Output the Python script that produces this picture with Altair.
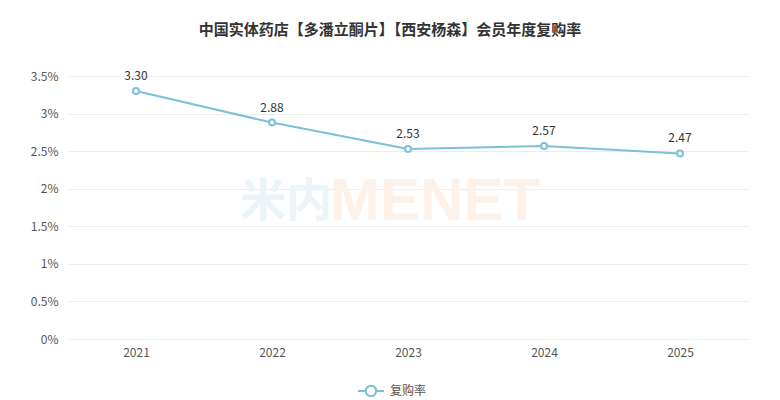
import altair as alt
import pandas as pd

years = ["2021", "2022", "2023", "2024", "2025"]
rates = [3.30, 2.88, 2.53, 2.57, 2.47]
series_name = "复购率"
title_text = "中国实体药店【多潘立酮片】【西安杨森】会员年度复购率"
y_ticks = [0, 0.5, 1, 1.5, 2, 2.5, 3, 3.5]

df = pd.DataFrame({"year": years, "rate": rates, "series": [series_name] * len(years)})

color = "#7cc0da"
font = "Microsoft YaHei, Noto Sans CJK SC, sans-serif"

x = alt.X("year:N", sort=years, title=None,
          scale=alt.Scale(type="point", padding=0.5),
          axis=alt.Axis(labelAngle=0, ticks=False, domain=False, grid=False,
                        labelColor="#555", labelFontSize=12, labelPadding=8, labelFont=font))
y = alt.Y("rate:Q", title=None,
          scale=alt.Scale(domain=[0, 3.5], nice=False),
          axis=alt.Axis(values=y_ticks, labelExpr="datum.value + '%'", ticks=False, domain=False,
                        gridColor="#ececec", labelColor="#555", labelFontSize=12,
                        labelPadding=10, labelFont=font))

legend_path = ("M-1,0 H-0.4 M0.4,0 H1 "
               "M-0.4,0 A0.4,0.4 0 1,1 0.4,0 A0.4,0.4 0 1,1 -0.4,0 Z")

watermark_a = alt.Chart(pd.DataFrame({"t": ["米内"]})).mark_text(
    fontSize=46, fontWeight="bold", color="#ebf4f7", align="left", baseline="middle", font=font
).encode(text="t:N", x=alt.value(172), y=alt.value(126))
watermark_b = alt.Chart(pd.DataFrame({"t": ["MENET"]})).mark_text(
    fontSize=60, fontWeight="bold", color="#fdf2ea", align="left", baseline="middle", font="Arial"
).encode(text="t:N", x=alt.value(262), y=alt.value(126))

base = alt.Chart(df)
line = base.mark_line(strokeWidth=2).encode(
    x=x, y=y,
    color=alt.Color("series:N", scale=alt.Scale(range=[color]),
                    legend=alt.Legend(title=None, orient="none", legendX=289, legendY=301,
                                      symbolType=legend_path, symbolSize=676, symbolStrokeWidth=2,
                                      symbolFillColor="white", labelFontSize=12, labelColor="#555",
                                      labelFont=font, labelOffset=5))
)
points = base.mark_point(filled=True, fill="white", stroke=color, strokeWidth=2, size=36, opacity=1).encode(
    x=x, y=y
)
labels = base.mark_text(dy=-15, fontSize=12, color="#333", font=font).encode(
    x=x, y=y, text=alt.Text("rate:Q", format=".2f")
)

chart = alt.layer(watermark_a, watermark_b, line, points, labels).properties(
    width=680, height=263,
    autosize=alt.AutoSizeParams(type="none"),
    padding={"left": 60, "top": 68, "right": 24, "bottom": 60},
    title=alt.TitleParams(title_text, fontSize=15, fontWeight="bold", color="#333",
                          anchor="middle", offset=32, dx=-18, font=font),
).configure_view(stroke=None)

chart.save("out.html", embed_options={"renderer": "svg", "actions": False})
